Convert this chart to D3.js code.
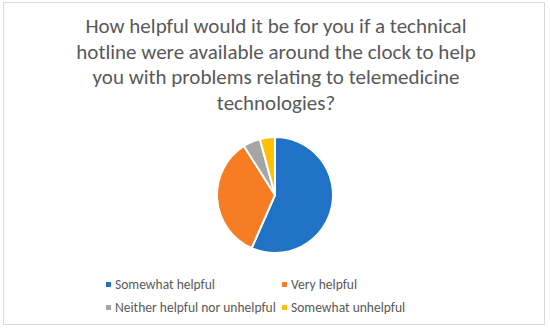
<!DOCTYPE html>
<html><head><meta charset="utf-8">
<script src="https://cdn.jsdelivr.net/npm/d3@7"></script>
<style>body{margin:0;background:#fff}svg{display:block}</style>
</head><body>
<script>
const categories = ["Somewhat helpful","Very helpful","Neither helpful nor unhelpful","Somewhat unhelpful"];
const values = [56.6, 34.4, 4.8, 4.2];
const colors = ["#1f72c6","#f77d24","#a5a5a5","#ffc000"];
const titleLines = ["How helpful would it be for you if a technical","hotline were available around the clock to help","you with problems relating to telemedicine","technologies?"];

const W=550,H=331;
const svg=d3.select("body").append("svg").attr("width",W).attr("height",H);
svg.append("rect").attr("x",3.5).attr("y",2.5).attr("width",541).attr("height",322).attr("fill","#fff").attr("stroke","#d9d9d9");

const font="Calibri, Carlito, Lato, 'Open Sans', sans-serif";
const title=svg.append("g").selectAll("text").data(titleLines).join("text")
  .attr("x",276).attr("y",(d,i)=>33+i*25.5).attr("text-anchor","middle")
  .attr("font-family",font).attr("font-size",18.6).attr("fill","#595959").text(d=>d);
// scale title font so first line spans ~381px like the reference
const w1=title.nodes()[0].getComputedTextLength();
title.attr("font-size",18.6*381/w1);

const pie=d3.pie().sort(null).value(d=>d);
const arc=d3.arc().innerRadius(0).outerRadius(58);
svg.append("g").attr("transform","translate(275,195)")
  .selectAll("path").data(pie(values)).join("path")
  .attr("d",arc).attr("fill",(d,i)=>colors[i]).attr("stroke","#fff").attr("stroke-width",2).attr("stroke-linejoin","round");

const legPos=[[106,284.5],[282,284.5],[106,307.5],[282,307.5]];
const lg=svg.append("g").selectAll("g").data(categories).join("g")
  .attr("transform",(d,i)=>`translate(${legPos[i][0]},${legPos[i][1]})`);
lg.append("rect").attr("x",0).attr("y",-2.5).attr("width",5).attr("height",5).attr("fill",(d,i)=>colors[i]);
const lt=lg.append("text").attr("x",9).attr("y",4.3).attr("font-family",font).attr("font-size",12.5).attr("fill","#595959").text(d=>d);
const w3=lt.nodes()[2].getComputedTextLength();
lt.attr("font-size",12.5*161/w3);
</script>
</body></html>
